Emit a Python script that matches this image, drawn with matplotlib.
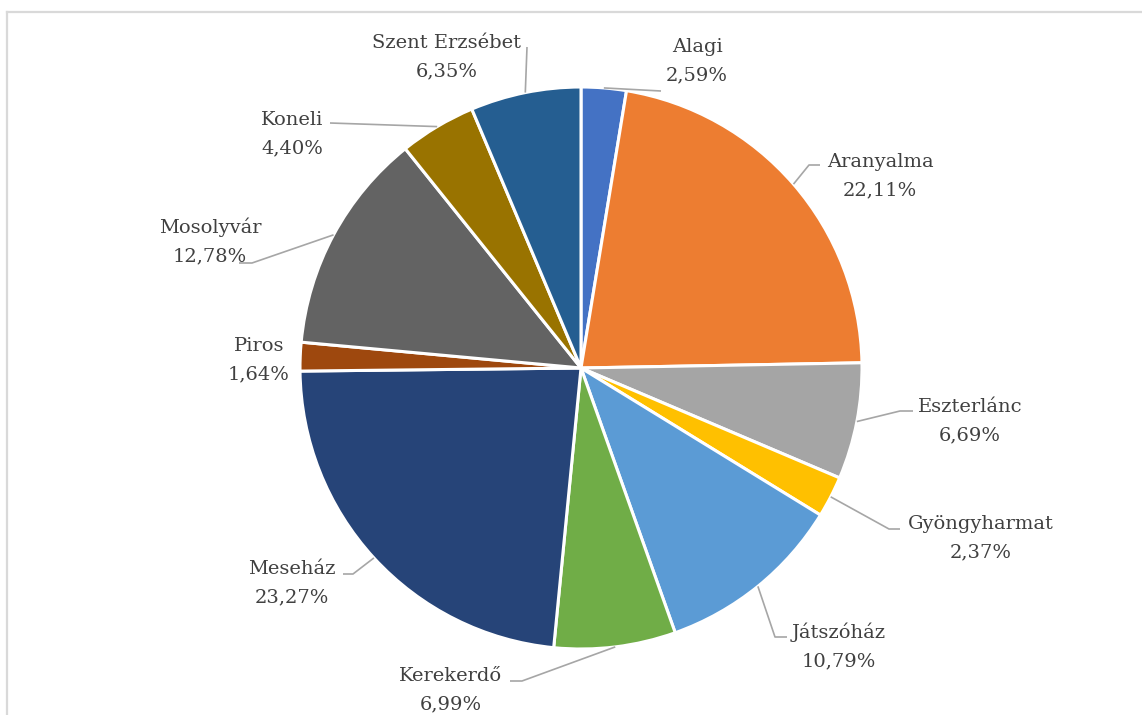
import matplotlib
matplotlib.use("Agg")
import matplotlib.pyplot as plt
import numpy as np

# ---- data ----
categories = ["Alagi", "Aranyalma", "Eszterlánc", "Gyöngyharmat", "Játszóház",
              "Kerekerdő", "Meseház", "Piros", "Mosolyvár", "Koneli", "Szent Erzsébet"]
values = [2.59, 22.11, 6.69, 2.37, 10.79, 6.99, 23.27, 1.64, 12.78, 4.40, 6.35]
colors = ["#4472C4", "#ED7D31", "#A5A5A5", "#FFC000", "#5B9BD5", "#70AD47",
          "#264478", "#9E480E", "#636363", "#997300", "#255E91"]

# ---- layout (pixel coordinates, y downward) ----
W, H = 1142, 715
cx, cy, R = 581, 368, 281
# label: (center x, name baseline y)
label_pos = [(697, 52), (880, 167), (970, 412), (981, 529), (839, 638),
             (451, 681), (292, 574), (259, 351), (210, 233), (292, 125), (447, 48)]
# leader line points after the wedge edge point (None = no leader)
leader_pts = [[(661, 91)], [(809, 165), (820, 165)], [(900, 411), (913, 411)],
              [(889, 529), (900, 529)], [(775, 637), (787, 637)],
              [(522, 681), (510, 681)], [(353, 574), (343, 574)], None,
              [(252, 263), (239, 263)], [(330, 123)], [(527, 47)]]

fig = plt.figure(figsize=(W / 100, H / 100), dpi=100)
ax = fig.add_axes([0, 0, 1, 1])

ax.pie(values, colors=colors, center=(cx, cy), radius=R, startangle=-90,
       counterclock=True, wedgeprops=dict(edgecolor="white", linewidth=2.2),
       frame=False)
ax.set_xlim(0, W)
ax.set_ylim(H, 0)
ax.set_aspect("equal")
ax.axis("off")

# frame border (top and left edges only visible)
ax.plot([7, W + 10], [12, 12], color="#D9D9D9", linewidth=1.6, clip_on=False)
ax.plot([7, 7], [12, H + 10], color="#D9D9D9", linewidth=1.6, clip_on=False)

total = sum(values)
cum = 0.0
font = dict(family="DejaVu Serif", size=14.0, color="#404040")
for i, (cat, v) in enumerate(zip(categories, values)):
    mid = (cum + v / 2) / total * 360.0
    cum += v
    # clockwise from top, y downward
    ex = cx + R * np.sin(np.radians(mid))
    ey = cy - R * np.cos(np.radians(mid))
    if leader_pts[i] is not None:
        xs = [ex] + [p[0] for p in leader_pts[i]]
        ys = [ey] + [p[1] for p in leader_pts[i]]
        ax.plot(xs, ys, color="#A6A6A6", linewidth=1.2, solid_capstyle="butt")
    lx, ly = label_pos[i]
    ax.text(lx, ly, cat, ha="center", va="baseline", **font)
    ax.text(lx, ly + 28.5, f"{v:.2f}%".replace(".", ","), ha="center",
            va="baseline", **font)

fig.savefig("out.png", dpi=100, facecolor="white")
